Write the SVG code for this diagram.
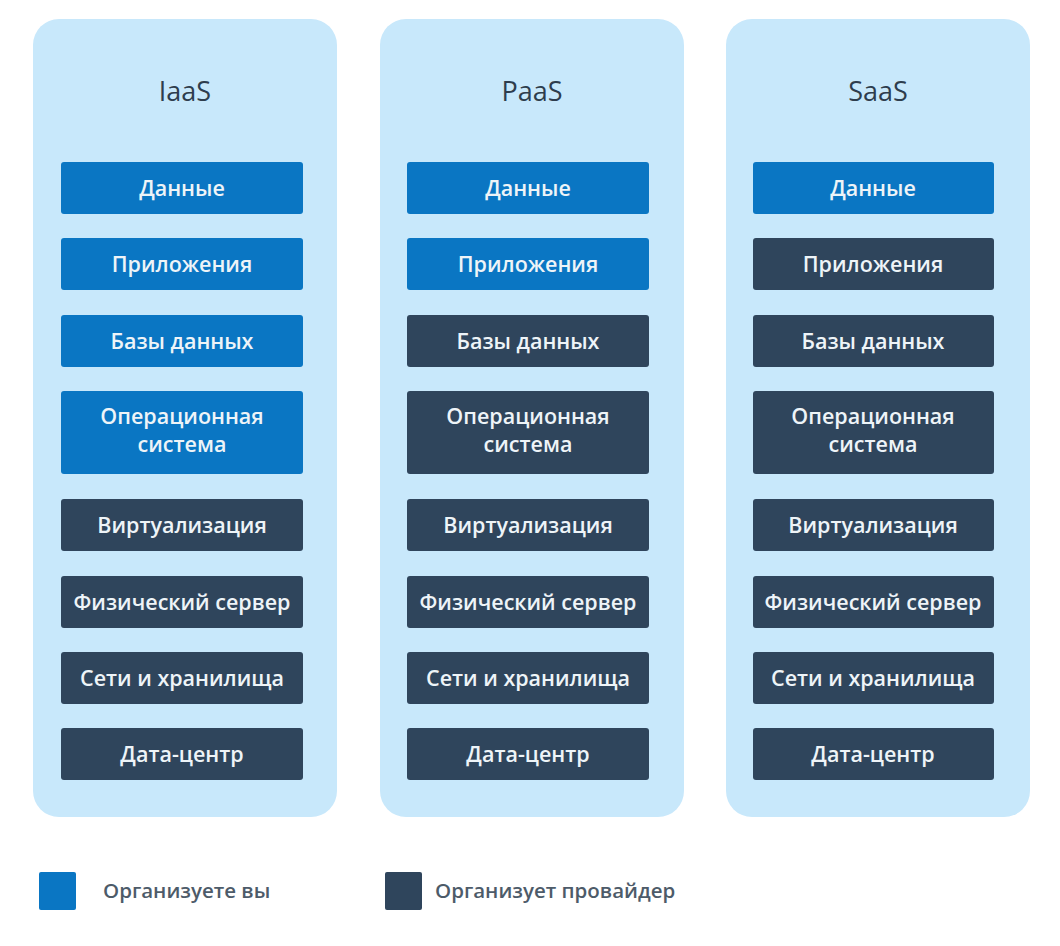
<svg xmlns="http://www.w3.org/2000/svg" width="1060" height="946" viewBox="0 0 1060 946">
<style>
.panel{fill:#c8e8fb}
.title{font-family:"Open Sans","Noto Sans",sans-serif;font-size:27px;font-weight:500;fill:#2e3d4d;text-anchor:middle}
.you{fill:#0a76c3}
.prov{fill:#2f455c}
.lbl{font-family:"Open Sans","Noto Sans",sans-serif;font-size:21.5px;font-weight:600;fill:#eef4f8;text-anchor:middle}
.leg{font-family:"Open Sans","Noto Sans",sans-serif;font-size:20.5px;font-weight:600;fill:#4d5b69}
</style>
<rect width="1060" height="946" fill="#ffffff"/>
<g id="col-iaas">
<rect class="panel" x="33" y="19" width="304" height="798" rx="26"/>
<text class="title" x="185" y="101">IaaS</text>
<g id="iaas-data"><rect class="you" x="61" y="162" width="242" height="52" rx="3"/><text class="lbl" x="182" y="196">Данные</text></g>
<g id="iaas-apps"><rect class="you" x="61" y="238" width="242" height="52" rx="3"/><text class="lbl" x="182" y="272">Приложения</text></g>
<g id="iaas-db"><rect class="you" x="61" y="315" width="242" height="52" rx="3"/><text class="lbl" x="182" y="349">Базы данных</text></g>
<g id="iaas-os"><rect class="you" x="61" y="391" width="242" height="83" rx="3"/><text class="lbl" x="182" y="424">Операционная</text><text class="lbl" x="182" y="452">система</text></g>
<g id="iaas-virt"><rect class="prov" x="61" y="499" width="242" height="52" rx="3"/><text class="lbl" x="182" y="533">Виртуализация</text></g>
<g id="iaas-srv"><rect class="prov" x="61" y="576" width="242" height="52" rx="3"/><text class="lbl" x="182" y="610">Физический сервер</text></g>
<g id="iaas-net"><rect class="prov" x="61" y="652" width="242" height="52" rx="3"/><text class="lbl" x="182" y="686">Сети и хранилища</text></g>
<g id="iaas-dc"><rect class="prov" x="61" y="728" width="242" height="52" rx="3"/><text class="lbl" x="182" y="762">Дата-центр</text></g>
</g>
<g id="col-paas">
<rect class="panel" x="380" y="19" width="304" height="798" rx="26"/>
<text class="title" x="532" y="101">PaaS</text>
<g id="paas-data"><rect class="you" x="407" y="162" width="242" height="52" rx="3"/><text class="lbl" x="528" y="196">Данные</text></g>
<g id="paas-apps"><rect class="you" x="407" y="238" width="242" height="52" rx="3"/><text class="lbl" x="528" y="272">Приложения</text></g>
<g id="paas-db"><rect class="prov" x="407" y="315" width="242" height="52" rx="3"/><text class="lbl" x="528" y="349">Базы данных</text></g>
<g id="paas-os"><rect class="prov" x="407" y="391" width="242" height="83" rx="3"/><text class="lbl" x="528" y="424">Операционная</text><text class="lbl" x="528" y="452">система</text></g>
<g id="paas-virt"><rect class="prov" x="407" y="499" width="242" height="52" rx="3"/><text class="lbl" x="528" y="533">Виртуализация</text></g>
<g id="paas-srv"><rect class="prov" x="407" y="576" width="242" height="52" rx="3"/><text class="lbl" x="528" y="610">Физический сервер</text></g>
<g id="paas-net"><rect class="prov" x="407" y="652" width="242" height="52" rx="3"/><text class="lbl" x="528" y="686">Сети и хранилища</text></g>
<g id="paas-dc"><rect class="prov" x="407" y="728" width="242" height="52" rx="3"/><text class="lbl" x="528" y="762">Дата-центр</text></g>
</g>
<g id="col-saas">
<rect class="panel" x="726" y="19" width="304" height="798" rx="26"/>
<text class="title" x="878" y="101">SaaS</text>
<g id="saas-data"><rect class="you" x="753" y="162" width="241" height="52" rx="3"/><text class="lbl" x="873" y="196">Данные</text></g>
<g id="saas-apps"><rect class="prov" x="753" y="238" width="241" height="52" rx="3"/><text class="lbl" x="873" y="272">Приложения</text></g>
<g id="saas-db"><rect class="prov" x="753" y="315" width="241" height="52" rx="3"/><text class="lbl" x="873" y="349">Базы данных</text></g>
<g id="saas-os"><rect class="prov" x="753" y="391" width="241" height="83" rx="3"/><text class="lbl" x="873" y="424">Операционная</text><text class="lbl" x="873" y="452">система</text></g>
<g id="saas-virt"><rect class="prov" x="753" y="499" width="241" height="52" rx="3"/><text class="lbl" x="873" y="533">Виртуализация</text></g>
<g id="saas-srv"><rect class="prov" x="753" y="576" width="241" height="52" rx="3"/><text class="lbl" x="873" y="610">Физический сервер</text></g>
<g id="saas-net"><rect class="prov" x="753" y="652" width="241" height="52" rx="3"/><text class="lbl" x="873" y="686">Сети и хранилища</text></g>
<g id="saas-dc"><rect class="prov" x="753" y="728" width="241" height="52" rx="3"/><text class="lbl" x="873" y="762">Дата-центр</text></g>
</g>
<g id="connectors"></g>
<g id="legend">
<rect class="you" x="39" y="872" width="37" height="38" rx="2"/>
<text class="leg" x="103" y="898">Организуете вы</text>
<rect class="prov" x="385" y="872" width="37" height="38" rx="2"/>
<text class="leg" x="435" y="898">Организует провайдер</text>
</g>
</svg>
